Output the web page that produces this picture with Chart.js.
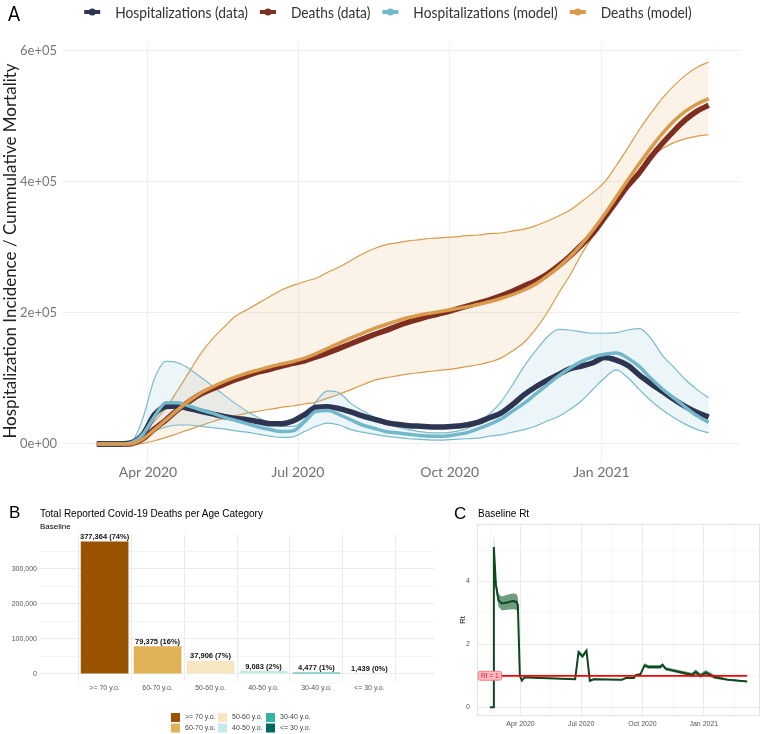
<!DOCTYPE html>
<html><head><meta charset="utf-8">
<script src="https://cdn.jsdelivr.net/npm/chart.js@4.4.1/dist/chart.umd.min.js"></script>
<style>
html,body{margin:0;padding:0;background:#fff}
body{width:764px;height:734px;position:relative;overflow:hidden}
.box{position:absolute}
canvas{display:block}
.t{position:absolute;white-space:nowrap;line-height:1;color:#000;font-family:'Liberation Sans',Arial,sans-serif}
</style></head><body>
<div class="box" style="left:0;top:0;width:764px;height:492px"><canvas id="cA"></canvas></div>
<div class="box" style="left:0;top:492px;width:440px;height:242px"><canvas id="cB"></canvas></div>
<div class="box" style="left:440px;top:492px;width:324px;height:242px"><canvas id="cC"></canvas></div>
<div class="t" style="left:8px;top:2px;font-family:Lato,sans-serif;font-size:21px;transform:scaleX(0.85);transform-origin:left top">A</div>
<div class="t" style="left:9px;top:504px;font-size:17px">B</div>
<div class="t" style="left:40px;top:509px;font-size:10px">Total Reported Covid-19 Deaths per Age Category</div>
<div class="t" style="left:40px;top:523px;font-size:8px">Baseline</div>
<div class="t" style="left:454px;top:505px;font-size:17px">C</div>
<div class="t" style="left:478px;top:509px;font-size:10px">Baseline Rt</div>
<script>
// ---------- Panel A data (values in thousands) ----------
const weekDates = ["2020-03-01","2020-03-08","2020-03-15","2020-03-22","2020-03-29","2020-04-05","2020-04-12","2020-04-19","2020-04-26","2020-05-03","2020-05-10","2020-05-17","2020-05-24","2020-05-31","2020-06-07","2020-06-14","2020-06-21","2020-06-28","2020-07-05","2020-07-12","2020-07-19","2020-07-26","2020-08-02","2020-08-09","2020-08-16","2020-08-23","2020-08-30","2020-09-06","2020-09-13","2020-09-20","2020-09-27","2020-10-04","2020-10-11","2020-10-18","2020-10-25","2020-11-01","2020-11-08","2020-11-15","2020-11-22","2020-11-29","2020-12-06","2020-12-13","2020-12-20","2020-12-27","2021-01-03","2021-01-10","2021-01-17","2021-01-24","2021-01-31","2021-02-07","2021-02-14","2021-02-21","2021-02-28","2021-03-07"];
const hospData   = [0,0,0,2,15,45,57,58,54,50,46,42,39,37,34,31,31,35,45,56,57,54,49,43,38,33,30,28,27,26,26,27,29,33,40,47,60,75,87,97,106,115,119,124,132,128,120,105,92,80,68,57,48,41];
const hospModel  = [0,0,0,2,15,42,63,63,58,52,47,41,36,31,26,22,19,20,34,50,51,45,37,29,24,19,17,15,13,12,12,14,17,23,30,38,50,62,76,90,104,116,126,133,137,139,131,118,100,84,70,56,43,33];
const hospLow    = [0,0,0,1,6,19,26,29,29,27,25,23,20,18,15,12,10,11,19,27,32,29,22,18,15,12,10,8,7,6,6,7,8,9,12,14,18,22,27,35,42,53,66,84,101,113,101,83,66,52,40,30,22,17];
const hospHigh   = [0,0,0,3,40,100,126,124,115,102,89,75,62,50,40,32,27,27,38,65,81,78,62,51,41,32,26,22,19,17,17,19,23,32,46,64,90,118,142,163,175,174,171,169,169,170,174,176,161,135,117,98,83,70];
const deathData  = [0,0,0,0.5,8,23,37,52,65,76,84,91,98,104,110,114,119,123,127,133,139,146,153,160,167,173,180,186,191,196,200,205,210,215,220,226,233,241,249,259,272,287,304,322,346,370,394,414,438,459,478,495,508,517];
const deathModel = [0,0,0,0.5,8,22,37,52,66,78,87,95,102,108,113,118,122,126,131,138,146,154,162,169,176,182,188,193,197,200,203,206,209,213,217,222,228,235,244,256,270,286,305,327,351,377,403,428,452,474,493,508,519,527];
const deathLow   = [0,0,0,0,1,5,10,16,22,28,34,39,43,47,50,53,56,58,61,64,70,76,83,90,97,101,104,107,109,111,113,115,118,121,125,131,142,155,175,200,230,258,290,318,345,372,397,418,437,451,460,466,470,472];
const deathHigh  = [0,0,0,1,15,35,55,82,110,138,160,178,195,205,215,225,235,242,248,253,262,270,280,290,298,304,307,310,312,314,315,316,318,319,321,322,325,328,333,340,348,357,370,384,400,425,452,480,505,528,547,563,575,583];
const dateTickDates  = ["2020-04-01","2020-07-01","2020-10-01","2021-01-01"];
const dateTickLabels = ["Apr 2020","Jul 2020","Oct 2020","Jan 2021"];
const aYTicks = [0,200,400,600];

// ---------- Panel B data ----------
const ageCats   = [">= 70 y.o.","60-70 y.o.","50-60 y.o.","40-50 y.o.","30-40 y.o.","<= 30 y.o."];
const ageDeaths = [377364,79375,37906,9083,4477,1439];
const ageColors = ["#995200","#DFB257","#F6E6C2","#C4EBE5","#35B3A6","#00695D"];
const bYTicks   = [0,50000,100000,150000,200000,250000,300000,350000];

// ---------- Panel C data ----------
const rtDates = ["2020-02-15","2020-02-20","2020-02-21","2020-02-24","2020-02-28","2020-03-04","2020-03-12","2020-03-20","2020-03-26","2020-03-28","2020-03-31","2020-04-03","2020-04-07","2020-05-01","2020-06-22","2020-06-27","2020-07-03","2020-07-09","2020-07-14","2020-07-20","2020-08-31","2020-09-06","2020-09-18","2020-09-21","2020-09-28","2020-10-04","2020-10-10","2020-10-28","2020-10-31","2020-11-05","2020-11-24","2020-12-14","2020-12-20","2020-12-27","2021-01-04","2021-01-18","2021-02-07","2021-03-07"];
const rtMid  = [0,0,5.1,3.9,3.4,3.3,3.33,3.38,3.35,3.25,1.0,0.85,0.95,0.93,0.89,1.75,1.62,1.8,0.84,0.89,0.87,0.93,0.93,1.02,1.05,1.33,1.28,1.28,1.35,1.22,1.13,1.03,1.12,1.0,1.1,0.95,0.87,0.82];
const rtLow  = [0,0,4.8,3.7,3.2,3.08,3.1,3.12,3.1,3.0,0.95,0.82,0.92,0.91,0.87,1.68,1.55,1.73,0.81,0.87,0.85,0.91,0.91,1.0,1.02,1.27,1.22,1.22,1.3,1.17,1.08,0.96,1.04,0.94,1.02,0.9,0.84,0.8];
const rtHigh = [0,0,5.5,4.1,3.6,3.52,3.58,3.62,3.6,3.5,1.05,0.88,0.98,0.95,0.91,1.82,1.68,1.87,0.87,0.91,0.89,0.95,0.95,1.05,1.08,1.4,1.34,1.34,1.4,1.27,1.18,1.1,1.2,1.07,1.18,1.02,0.9,0.84];
const rtRef = 1;
const cYTicks = [0,1,2,3,4,5];
const cYMajor = [0,2,4];

// ---------- helpers ----------
const day = s => (Date.parse(s) - Date.parse("2020-03-01")) / 86400000;
const pts = (dates, vals) => vals.map((v, i) => ({x: day(dates[i]), y: v}));
const rFmt = v => (v * 1000).toExponential().replace(/e([+-])(\d)$/, 'e$10$2');
const dateTicks = dateTickDates.map(day);

Chart.defaults.animation = false;
Chart.defaults.plugins.tooltip.enabled = false;
Chart.defaults.plugins.legend.display = false;

// ---------- Panel A ----------
const COL = {hd:'#2D3552', dd:'#7E2E20', hm:'#72B8CA', dm:'#DA9A4B'};
const legendA = {
  id:'legendA',
  afterDraw(chart){
    const ctx = chart.ctx;
    const items = [
      {t:'Hospitalizations (data)', c:COL.hd},
      {t:'Deaths (data)', c:COL.dd},
      {t:'Hospitalizations (model)', c:COL.hm},
      {t:'Deaths (model)', c:COL.dm}];
    ctx.save();
    ctx.font = '16px Lato, sans-serif';
    const sx = 0.86, mw = 16, g1 = 15, g2 = 12, y = 12;
    const widths = items.map(it => ctx.measureText(it.t).width * sx);
    const total = widths.reduce((a,b)=>a+b,0) + items.length*(mw+g1) + (items.length-1)*g2;
    let x = 388 - total/2;
    items.forEach((it,i)=>{
      ctx.strokeStyle = it.c; ctx.lineWidth = 4; ctx.lineCap='butt';
      ctx.beginPath(); ctx.moveTo(x,y); ctx.lineTo(x+mw,y); ctx.stroke();
      ctx.fillStyle = it.c; ctx.beginPath(); ctx.arc(x+mw/2,y,3.6,0,Math.PI*2); ctx.fill();
      x += mw + g1;
      ctx.save(); ctx.translate(x,y); ctx.scale(sx,1);
      ctx.fillStyle = '#333'; ctx.textBaseline = 'middle'; ctx.textAlign='left';
      ctx.fillText(it.t,0,1); ctx.restore();
      x += widths[i] + g2;
    });
    ctx.restore();
  }
};
const lineBase = {pointRadius:0, cubicInterpolationMode:'monotone', fill:false};
new Chart(document.getElementById('cA'), {
  type:'line',
  data:{datasets:[
    {...lineBase, label:'deathHigh', data:pts(weekDates,deathHigh), borderColor:COL.dm, borderWidth:1.2, fill:'+1', backgroundColor:'rgba(226,160,90,0.14)', order:10},
    {...lineBase, label:'deathLow', data:pts(weekDates,deathLow), borderColor:COL.dm, borderWidth:1.2, order:10},
    {...lineBase, label:'hospHigh', data:pts(weekDates,hospHigh), borderColor:'#7DBBCB', borderWidth:1.2, fill:'+1', backgroundColor:'rgba(120,185,205,0.14)', order:9},
    {...lineBase, label:'hospLow', data:pts(weekDates,hospLow), borderColor:'#7DBBCB', borderWidth:1.2, order:9},
    {...lineBase, label:'Hospitalizations (data)', data:pts(weekDates,hospData), borderColor:COL.hd, borderWidth:5.5, order:5},
    {...lineBase, label:'Deaths (data)', data:pts(weekDates,deathData), borderColor:COL.dd, borderWidth:5.5, order:5},
    {...lineBase, label:'Hospitalizations (model)', data:pts(weekDates,hospModel), borderColor:COL.hm, borderWidth:3.5, order:2},
    {...lineBase, label:'Deaths (model)', data:pts(weekDates,deathModel), borderColor:COL.dm, borderWidth:3.5, order:1}
  ]},
  options:{
    responsive:true, maintainAspectRatio:false,
    layout:{padding:{top:43,right:24,left:0,bottom:0}},
    scales:{
      x:{type:'linear', min:-20.5, max:390,
        afterBuildTicks:s=>{s.ticks = dateTicks.map(v=>({value:v}));},
        afterFit:s=>{s.height = 29;},
        ticks:{callback:(v,i)=>dateTickLabels[i], color:'#707070', font:{family:'Lato', size:14}, padding:1, maxRotation:0, autoSkip:false},
        grid:{color:'#EFEFEF', drawTicks:false}, border:{display:false}},
      y:{type:'linear', min:-29, max:612,
        afterBuildTicks:s=>{s.ticks = aYTicks.map(v=>({value:v}));},
        afterFit:s=>{s.width = 63;},
        ticks:{callback:v=>rFmt(v), color:'#787878', font:{family:'Lato', size:13}, padding:6},
        grid:{color:'#EFEFEF', drawTicks:false}, border:{display:false}},
    }
  },
  plugins:[legendA, {
    id:'yTitleA',
    afterDraw(chart){
      const ctx = chart.ctx, a = chart.chartArea;
      ctx.save();
      ctx.translate(11, (a.top + a.bottom)/2 - 2);
      ctx.rotate(-Math.PI/2);
      ctx.font = '17px Lato, sans-serif';
      ctx.fillStyle = '#222'; ctx.textAlign = 'center'; ctx.textBaseline = 'middle';
      ctx.fillText('Hospitalization Incidence / Cummulative Mortality', 0, 0);
      ctx.restore();
    }
  }]
});

// ---------- Panel B ----------
const total = ageDeaths.reduce((a,b)=>a+b,0);
const barLabels = {
  id:'barLabels',
  afterDatasetsDraw(chart){
    const ctx = chart.ctx, meta = chart.getDatasetMeta(0);
    ctx.save();
    ctx.font = 'bold 7.5px "Liberation Sans", Arial, sans-serif';
    ctx.fillStyle = '#111'; ctx.textAlign='center'; ctx.textBaseline='bottom';
    meta.data.forEach((el,i)=>{
      const txt = ageDeaths[i].toLocaleString('en-US') + ' (' + Math.round(100*ageDeaths[i]/total) + '%)';
      ctx.fillText(txt, el.x, el.y - 0.5);
    });
    // legend
    const colX = [171, 218, 266], rowY = [221, 231.5], sz = 9;
    ctx.font = '7px "Liberation Sans", Arial, sans-serif';
    ctx.textAlign='left'; ctx.textBaseline='middle';
    ageCats.forEach((c,i)=>{
      const col = Math.floor(i/2), row = i%2;
      ctx.fillStyle = ageColors[i];
      ctx.fillRect(colX[col], rowY[row], sz, sz);
      ctx.fillStyle = '#444';
      ctx.fillText(c, colX[col]+sz+5, rowY[row]+sz/2);
    });
    ctx.restore();
  }
};
new Chart(document.getElementById('cB'), {
  type:'bar',
  data:{datasets:[{data:ageDeaths.map((v,i)=>({x:i+1,y:v})), backgroundColor:ageColors, barPercentage:0.9, categoryPercentage:1}]},
  options:{
    responsive:true, maintainAspectRatio:false,
    layout:{padding:{top:43,right:6,left:0,bottom:0}},
    scales:{
      x:{type:'linear', min:0.4, max:6.6,
        afterBuildTicks:s=>{s.ticks = ageCats.map((c,i)=>({value:i+1}));},
        afterFit:s=>{s.height = 53.4;},
        ticks:{callback:v=>ageCats[v-1], color:'#555', font:{family:'Liberation Sans', size:7}, padding:3, maxRotation:0, autoSkip:false},
        grid:{color:'#EBEBEB', drawTicks:false}, border:{display:false}},
      y:{type:'linear', min:-18868, max:396232,
        afterBuildTicks:s=>{s.ticks = bYTicks.map(v=>({value:v}));},
        afterFit:s=>{s.width = 40;},
        ticks:{callback:v=> v % 100000 === 0 ? v.toLocaleString('en-US') : '', color:'#555', font:{family:'Liberation Sans', size:7}, padding:3, autoSkip:false},
        grid:{color:c=> (c.tick && c.tick.value % 100000 === 0) ? '#EBEBEB' : '#F4F4F4', drawTicks:false}, border:{display:false}}
    }
  },
  plugins:[barLabels]
});

// ---------- Panel C ----------
const cXTicks = [];
dateTicks.forEach((v,i)=>{
  const step = (i < dateTicks.length-1 ? dateTicks[i+1]-v : v-dateTicks[i-1]);
  if (i===0) cXTicks.push(v - step/2);
  cXTicks.push(v); cXTicks.push(v + step/2);
});
const frameC = {
  id:'frameC',
  beforeDatasetsDraw(chart){
    const a = chart.chartArea, ctx = chart.ctx;
    ctx.save(); ctx.strokeStyle='#E2E2E2'; ctx.lineWidth=1;
    ctx.strokeRect(Math.round(a.left)+0.5, Math.round(a.top)+0.5, Math.round(a.right-a.left)-1, Math.round(a.bottom-a.top)-1);
    ctx.restore();
  },
  afterDatasetsDraw(chart){
    const ctx = chart.ctx, xs = chart.scales.x, ys = chart.scales.y;
    const px = xs.getPixelForValue(day(rtDates[0])), py = ys.getPixelForValue(rtRef);
    ctx.save();
    ctx.font = '6.5px "Liberation Sans", Arial, sans-serif';
    const txt = 'Rt = ' + rtRef;
    const w = ctx.measureText(txt).width + 6, h = 9;
    const x0 = px - w/2, y0 = py - h/2, r = 2;
    ctx.beginPath();
    ctx.moveTo(x0+r,y0); ctx.lineTo(x0+w-r,y0); ctx.quadraticCurveTo(x0+w,y0,x0+w,y0+r);
    ctx.lineTo(x0+w,y0+h-r); ctx.quadraticCurveTo(x0+w,y0+h,x0+w-r,y0+h);
    ctx.lineTo(x0+r,y0+h); ctx.quadraticCurveTo(x0,y0+h,x0,y0+h-r);
    ctx.lineTo(x0,y0+r); ctx.quadraticCurveTo(x0,y0,x0+r,y0); ctx.closePath();
    ctx.fillStyle='#FFB7C0'; ctx.fill();
    ctx.strokeStyle='#F26B7A'; ctx.lineWidth=0.8; ctx.stroke();
    ctx.fillStyle='#E8182C'; ctx.textAlign='center'; ctx.textBaseline='middle';
    ctx.fillText(txt, px, py+0.5);
    ctx.restore();
  }
};
const noLine = 'rgba(0,0,0,0)';
new Chart(document.getElementById('cC'), {
  type:'line',
  data:{datasets:[
    {label:'rtHigh', data:pts(rtDates,rtHigh), borderColor:noLine, borderWidth:0, pointRadius:0, tension:0, fill:'+1', backgroundColor:'rgba(25,95,50,0.62)', order:5},
    {label:'rtLow', data:pts(rtDates,rtLow), borderColor:noLine, borderWidth:0, pointRadius:0, tension:0, fill:false, order:5},
    {label:'Rt', data:pts(rtDates,rtMid), borderColor:'#0B4A1E', borderWidth:2, pointRadius:0, tension:0, fill:false, order:2},
    {label:'Rt = 1', data:[{x:day(rtDates[0]), y:rtRef},{x:day(rtDates[rtDates.length-1]), y:rtRef}], borderColor:'#FF0000', borderWidth:1.8, pointRadius:0, fill:false, order:1}
  ]},
  options:{
    responsive:true, maintainAspectRatio:false,
    layout:{padding:{top:32,right:4,left:0,bottom:0}},
    scales:{
      x:{type:'linear', min:-34.3, max:390.3,
        afterBuildTicks:s=>{s.ticks = cXTicks.map(v=>({value:v}));},
        afterFit:s=>{s.height = 18;},
        ticks:{callback:v=>{const k = dateTicks.indexOf(v); return k>=0 ? dateTickLabels[k] : '';}, color:'#555', font:{family:'Liberation Sans', size:7}, padding:4, maxRotation:0, autoSkip:false},
        grid:{color:c=> (c.tick && dateTicks.indexOf(c.tick.value)>=0) ? '#EBEBEB' : '#F5F5F5', drawTicks:false}, border:{display:false}},
      y:{type:'linear', min:-0.28, max:5.83,
        afterBuildTicks:s=>{s.ticks = cYTicks.map(v=>({value:v}));},
        afterFit:s=>{s.width = 37;},
        ticks:{callback:v=> cYMajor.includes(v) ? String(v) : '', color:'#555', font:{family:'Liberation Sans', size:7}, padding:7, autoSkip:false},
        grid:{color:c=> (c.tick && cYMajor.includes(c.tick.value)) ? '#EBEBEB' : '#F5F5F5', drawTicks:false}, border:{display:false},
        title:{display:true, text:'Rt', color:'#222', font:{family:'Liberation Sans', size:8}, padding:{top:18,bottom:0}}}
    }
  },
  plugins:[frameC]
});
</script>
</body></html>
